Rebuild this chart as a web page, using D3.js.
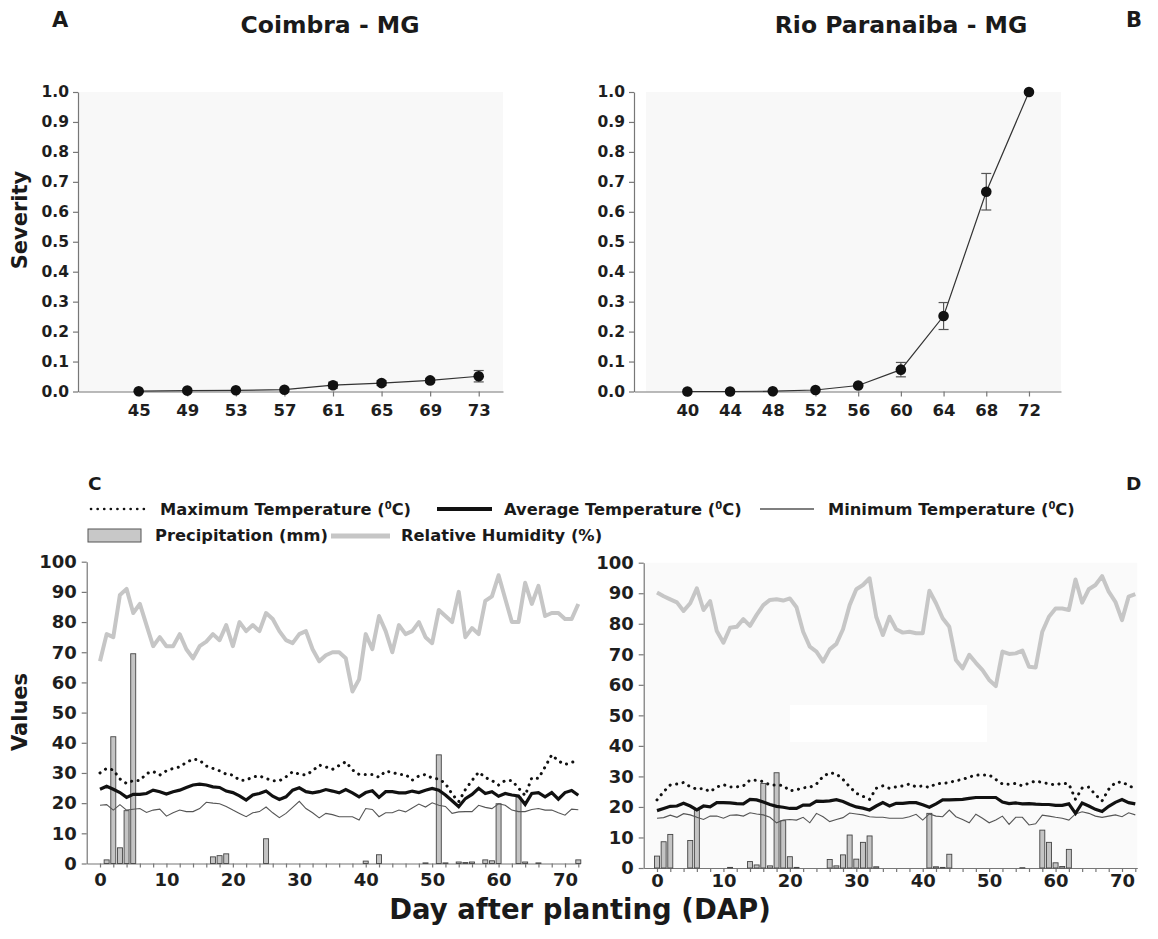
<!DOCTYPE html>
<html>
<head>
<meta charset="utf-8">
<script src="https://cdnjs.cloudflare.com/ajax/libs/d3/7.8.5/d3.min.js"></script>
<style>
  body { margin: 0; background: #fff; }
  svg { display: block; font-family: 'DejaVu Sans', sans-serif; }
  .axis path, .axis line { stroke: #777; stroke-width: 1.2; }
  .axis text { font-family: 'DejaVu Sans', sans-serif; font-weight: bold; fill: #1e1e1e; }
  .lbl { font-family: 'DejaVu Sans', sans-serif; font-weight: bold; fill: #1a1a1a; }
</style>
</head>
<body>
<script>

// ---- severity data (panels A and B)
const sevTicks = [0, 0.1, 0.2, 0.3, 0.4, 0.5, 0.6, 0.7, 0.8, 0.9, 1.0];
const daysA = [45, 49, 53, 57, 61, 65, 69, 73];
const sevA = [0.001, 0.003, 0.004, 0.006, 0.021, 0.028, 0.037, 0.051];
const errA = [0, 0, 0, 0, 0.010, 0.008, 0.007, 0.019];
const daysB = [40, 44, 48, 52, 56, 60, 64, 68, 72];
const sevB = [0, 0, 0.001, 0.005, 0.02, 0.073, 0.252, 0.667, 1.0];
const errB = [0, 0, 0, 0, 0.003, 0.024, 0.045, 0.061, 0];

// ---- weather data (panels C and D), one value per day after planting, day 0..72
const valueTicks = [0, 10, 20, 30, 40, 50, 60, 70, 80, 90, 100];
const dapTicks = [0, 2, 4, 6, 8, 10, 12, 14, 16, 18, 20, 22, 24, 26, 28, 30, 32, 34, 36,
                  38, 40, 42, 44, 46, 48, 50, 52, 54, 56, 58, 60, 62, 64, 66, 68, 70, 72];

const rhC = [67, 76, 75, 89, 91, 83, 86, 79, 72, 75, 72, 72, 76, 71, 68, 72, 73.5, 76, 74, 79,
             72, 80, 77, 79, 77, 83, 81, 77, 74, 73, 76, 77, 71, 67, 69, 70, 70, 68, 57, 61,
             76, 71, 82, 77, 70, 79, 76, 77, 80, 75, 73, 84, 82, 80, 90, 75, 78, 76, 87, 88.5,
             95.5, 87.7, 80, 80, 93, 86, 92, 82, 83, 83, 81, 81, 86];
const tmaxC = [30, 31.5, 31, 28, 26.5, 27.5, 27.5, 29.8, 30.5, 29.3, 30.7, 31.5, 32, 33.5, 34.6, 34.2, 32.3, 31.5, 30.7, 29.6,
               29.3, 27.6, 27.6, 28.7, 29, 28.2, 27.4, 27.4, 28.7, 30.4, 29.6, 29.3, 30.7, 32.6, 32, 31.2, 32.5, 33.7, 31, 29.5,
               29.5, 29.5, 28.6, 30.6, 30.2, 29.5, 29.5, 27.6, 29, 29.5, 28.3, 28, 26.5, 23, 20.5, 24.5, 27.5, 30.3, 28.5, 27.5,
               26, 27.5, 27.5, 25, 22.5, 28.4, 28.2, 32, 36, 34, 32.8, 33.5, 34.2];
const tavgC = [24.6, 25.6, 24.6, 23.5, 21.9, 22.9, 22.9, 23.2, 24.3, 23.8, 23, 23.8, 24.3, 25.2, 26, 26.3, 26, 25.4, 25.2, 24,
               23.5, 22.4, 21, 22.7, 23.2, 24, 22.3, 21.2, 22.1, 24.3, 25.1, 23.8, 23.4, 23.8, 24.5, 24, 23.4, 24.5, 23.4, 22.1,
               23.5, 24.1, 21.9, 23.8, 23.8, 23.4, 23.4, 24, 23.5, 24.3, 24.9, 24.3, 22.7, 20.8, 18.8, 21.5, 22.9, 24.9, 23.2, 23.8,
               22.3, 23.2, 22.7, 22.4, 19.6, 23.2, 23.5, 22.1, 23.5, 21.3, 23.5, 24.2, 22.6];
const tminC = [19.3, 19.5, 17.7, 19.5, 17.7, 18, 18.2, 16.9, 17.7, 18, 15.7, 16.8, 17.7, 17.2, 17.2, 18.2, 20.3, 20, 19.8, 18.9,
               17.7, 16.6, 15.5, 16.8, 17.2, 18.7, 16.8, 15.2, 16.6, 18.6, 20.6, 18.2, 16.8, 15.1, 16.6, 16.2, 15.5, 15.5, 15.5, 14.4,
               18.2, 17.9, 15.5, 16.8, 16.8, 17.7, 17.1, 18.4, 19.7, 18.7, 20.1, 19.3, 18.9, 16.6, 17.1, 17.2, 17.2, 19.3, 18.6, 18.2,
               19.8, 19.3, 17.7, 17.2, 17.2, 17.9, 18.2, 17.7, 17.7, 16.8, 16, 18, 17.8];
const rainDaysC = [1, 2, 3, 4, 5, 17, 18, 19, 25, 40, 42, 49, 51, 52, 54, 55, 56, 58, 59, 60, 63, 64, 66, 72];
const rainC = [1.2, 42, 5.2, 17.5, 69.5, 2.2, 2.6, 3.2, 8.2, 0.8, 2.9, 0.2, 36, 0.2, 0.5, 0.3, 0.5, 1.2, 0.9, 19.8, 22, 0.5, 0.2, 1.2];

const rhD = [90.2, 89, 88, 87, 84.2, 86.7, 91.6, 84.5, 87.4, 77.6, 73.8, 78.7, 79, 81.5, 79.3, 82.9, 86.1, 87.8, 88, 87.6,
             88.3, 85.4, 77.4, 72.5, 70.9, 67.6, 71.6, 73.4, 78.2, 86.1, 91.3, 92.7, 94.9, 82.3, 76.3, 82.3, 78.2, 77.1, 77.4, 76.9,
             76.9, 90.8, 86.7, 81.8, 79, 68.1, 65.4, 69.8, 67.2, 64.8, 61.6, 59.6, 70.9, 70.1, 70.3, 71.2, 65.9, 65.7, 77.4, 82.3,
             85, 85, 84.5, 94.5, 86.9, 91.3, 92.7, 95.6, 90.5, 87.2, 81.2, 88.9, 89.7];
const tmaxD = [22.3, 25, 27.2, 27.5, 28, 26.6, 25.8, 26.1, 25, 26.5, 27.3, 26.5, 26.6, 26.9, 28.8, 28.7, 28.3, 27.2, 27.2, 27,
               25.3, 25.6, 26.3, 26.4, 27.5, 30, 31.2, 30.8, 29, 26.6, 24.5, 23.5, 22.5, 26.1, 26.9, 26.1, 26.6, 26.9, 27.5, 26.6,
               26.9, 26.4, 27.6, 27.7, 28, 28.6, 29, 29.8, 30.4, 30.5, 30.5, 29, 27.5, 27.4, 27.7, 26.9, 27.8, 28.5, 28, 27.6,
               27.2, 27.8, 27.5, 22.5, 26.2, 26.5, 24, 22, 25.8, 28, 28.2, 27, 26];
const tavgD = [18.8, 19.5, 20.2, 20.3, 21.2, 20.3, 19, 20.3, 20, 21.4, 21.4, 21.3, 21.1, 21, 22.5, 22.3, 21.6, 20.8, 20.2, 19.9,
               19.5, 19.5, 20.6, 20.6, 21.9, 21.8, 22, 22.4, 21.8, 20.8, 20, 19.6, 19, 20.3, 21.4, 20.3, 21.2, 21.2, 21.4, 21.4,
               20.7, 19.9, 21, 22.3, 22.3, 22.4, 22.5, 22.8, 23.1, 23.1, 23.1, 23.1, 21.6, 21.1, 21.3, 21, 21.1, 20.9, 20.8, 20.8,
               20.5, 20.5, 21, 17.9, 21.3, 20.3, 19.2, 18.5, 20.2, 21.5, 22.4, 21.4, 21];
const tminD = [16.3, 16.5, 17.3, 16.6, 17.8, 17.4, 16.6, 15.9, 17, 17, 16.3, 17.3, 17.4, 17, 18.1, 17.7, 17.4, 16.6, 14.8, 15.7,
               15.9, 15.7, 16.6, 14.8, 17.9, 16.8, 15.2, 15.9, 16.5, 18, 17.7, 17.4, 16.8, 16.6, 16.6, 16.3, 16.3, 16.3, 16.8, 17.6,
               15.7, 17.7, 17, 16.8, 19, 16.8, 15.9, 14.8, 17.6, 16.3, 14.8, 15.7, 17, 14.3, 16.6, 16.6, 14.1, 14.5, 17.3, 17,
               16.6, 16.3, 15.7, 17.7, 18.4, 17.9, 17, 16.6, 17, 17.4, 16.8, 18.1, 17.4];
const rainDaysD = [0, 1, 2, 5, 6, 11, 14, 15, 16, 17, 18, 19, 20, 21, 26, 27, 28, 29, 30, 31, 32, 33, 41, 42, 43, 44, 55, 58, 59, 60, 61, 62];
const rainD = [3.9, 8.6, 11, 9, 19, 0.2, 2.1, 1, 27.7, 0.7, 31.2, 15.5, 3.7, 0.2, 2.8, 0.7, 4.3, 10.8, 2.9, 8.4, 10.5, 0.4,
               17.9, 0.4, 0.2, 4.5, 0.1, 12.4, 8.4, 1.7, 0.5, 6.1];

// ---- page size
const WIDTH = 1158;
const HEIGHT = 939;

const SVG = d3.select('body')
              .append('svg')
              .attr('width', WIDTH)
              .attr('height', HEIGHT);

// severity panel: line with dots and error bars
function drawSeverity(cfg) {
    const xScale = d3.scaleLinear().domain(cfg.domain).range([cfg.left, cfg.right]);
    const yScale = d3.scaleLinear().domain([0, 1]).range([391.5, 92]);

    // light plot background
    SVG.append('rect')
       .attr('x', cfg.bgLeft)
       .attr('y', yScale(1))
       .attr('width', cfg.right - cfg.bgLeft)
       .attr('height', yScale(0) - yScale(1))
       .attr('fill', '#f8f8f8');

    const xAxis = SVG.append('g')
       .attr('class', 'axis')
       .attr('transform', 'translate(0,' + yScale(0) + ')')
       .call(d3.axisBottom(xScale).tickValues(cfg.days).tickSize(5).tickSizeOuter(0).tickPadding(8));
    xAxis.selectAll('text').style('font-size', '16.5px');

    const yAxis = SVG.append('g')
       .attr('class', 'axis')
       .attr('transform', 'translate(' + cfg.left + ',0)')
       .call(d3.axisLeft(yScale).tickValues(sevTicks).tickFormat(d3.format('.1f'))
               .tickSize(5).tickSizeOuter(0).tickPadding(4));
    yAxis.selectAll('text').style('font-size', '15.5px');

    const pts = cfg.days.map((d, i) => ({day: d, v: cfg.sev[i], e: cfg.err[i]}));

    SVG.append('path')
       .datum(pts)
       .attr('d', d3.line().x(d => xScale(d.day)).y(d => yScale(d.v)))
       .attr('fill', 'none')
       .attr('stroke', '#333')
       .attr('stroke-width', 1.2);

    // error bars
    const bars = SVG.append('g')
       .attr('stroke', '#555')
       .attr('stroke-width', 1.2)
       .selectAll('g')
       .data(pts.filter(d => d.e > 0))
       .join('g');
    bars.append('line')
        .attr('x1', d => xScale(d.day)).attr('x2', d => xScale(d.day))
        .attr('y1', d => yScale(d.v - d.e)).attr('y2', d => yScale(d.v + d.e));
    [-1, 1].forEach(s => {
        bars.append('line')
            .attr('x1', d => xScale(d.day) - 5).attr('x2', d => xScale(d.day) + 5)
            .attr('y1', d => yScale(d.v + s * d.e)).attr('y2', d => yScale(d.v + s * d.e));
    });

    SVG.append('g')
       .selectAll('circle')
       .data(pts)
       .join('circle')
       .attr('cx', d => xScale(d.day))
       .attr('cy', d => yScale(d.v))
       .attr('r', 5.3)
       .attr('fill', '#111');
}

drawSeverity({days: daysA, sev: sevA, err: errA, domain: [40, 75], left: 78, right: 503, bgLeft: 78});
drawSeverity({days: daysB, sev: sevB, err: errB, domain: [35, 75], left: 634, right: 1061, bgLeft: 646});

// weather panel: precipitation bars, humidity and temperature lines
function drawWeather(cfg) {
    const dayStep = 6.643;
    const xScale = d3.scaleLinear()
                     .domain([-2, 72.3])
                     .range([cfg.day0 - 2 * dayStep, cfg.day0 + 72.3 * dayStep]);
    const yScale = d3.scaleLinear().domain([0, 100]).range([cfg.zero, cfg.top]);

    if (cfg.bg) {
        SVG.append('rect')
           .attr('x', xScale(-2)).attr('y', yScale(100))
           .attr('width', xScale(72.3) - xScale(-2))
           .attr('height', yScale(0) - yScale(100))
           .attr('fill', cfg.bg);
        // blank patch in the scanned original
        SVG.append('rect')
           .attr('x', 790).attr('y', 705).attr('width', 197).attr('height', 37)
           .attr('fill', '#ffffff');
    }

    const xAxis = SVG.append('g')
       .attr('class', 'axis')
       .attr('transform', 'translate(0,' + yScale(0) + ')')
       .call(d3.axisBottom(xScale).tickValues(dapTicks)
               .tickFormat(d => d % 10 === 0 ? d : '')
               .tickSize(4).tickSizeOuter(0).tickPadding(cfg.xPad));
    xAxis.selectAll('text').style('font-size', '18px');

    const yAxis = SVG.append('g')
       .attr('class', 'axis')
       .attr('transform', 'translate(' + xScale(-2) + ',0)')
       .call(d3.axisLeft(yScale).tickValues(valueTicks).tickSize(5).tickSizeOuter(0).tickPadding(5));
    yAxis.selectAll('text').style('font-size', '18px');

    // precipitation
    SVG.append('g')
       .selectAll('rect')
       .data(cfg.rainDays.map((d, i) => ({day: d, v: cfg.rain[i]})))
       .join('rect')
       .attr('x', d => xScale(d.day) - 2.5)
       .attr('y', d => yScale(d.v))
       .attr('width', 5)
       .attr('height', d => yScale(0) - yScale(d.v))
       .attr('fill', '#c4c4c4')
       .attr('stroke', '#444')
       .attr('stroke-width', 0.9);

    const line = d3.line().x((d, i) => xScale(i)).y(d => yScale(d));

    SVG.append('path').datum(cfg.rh).attr('d', line)
       .attr('fill', 'none').attr('stroke', '#c6c6c6').attr('stroke-width', 4)
       .attr('stroke-linejoin', 'round');

    SVG.append('path').datum(cfg.tmin).attr('d', line)
       .attr('fill', 'none').attr('stroke', '#555').attr('stroke-width', 1.1);

    SVG.append('path').datum(cfg.tavg).attr('d', line)
       .attr('fill', 'none').attr('stroke', '#111').attr('stroke-width', 3.2);

    SVG.append('path').datum(cfg.tmax).attr('d', line)
       .attr('fill', 'none').attr('stroke', '#111').attr('stroke-width', 3)
       .attr('stroke-linecap', 'round').attr('stroke-dasharray', '0.1 6.5');
}

drawWeather({day0: 100, zero: 863.5, top: 561.7, xPad: 6, bg: null,
             rh: rhC, tmax: tmaxC, tavg: tavgC, tmin: tminC, rainDays: rainDaysC, rain: rainC});
drawWeather({day0: 657, zero: 868, top: 562.7, xPad: 2, bg: '#fafafa',
             rh: rhD, tmax: tmaxD, tavg: tavgD, tmin: tminD, rainDays: rainDaysD, rain: rainD});

// titles and panel letters
const titles = [
    {text: 'Coimbra - MG', x: 330, y: 33, size: 23.5, anchor: 'middle'},
    {text: 'Rio Paranaiba - MG', x: 901, y: 33, size: 23.5, anchor: 'middle'},
    {text: 'A', x: 52, y: 27, size: 21, anchor: 'start'},
    {text: 'B', x: 1126, y: 27, size: 21, anchor: 'start'},
    {text: 'C', x: 88, y: 490, size: 18.5, anchor: 'start'},
    {text: 'D', x: 1126, y: 490, size: 18.5, anchor: 'start'},
    {text: 'Day after planting (DAP)', x: 580, y: 919, size: 27.5, anchor: 'middle'}
];
SVG.append('g')
   .selectAll('text')
   .data(titles)
   .join('text')
   .attr('class', 'lbl')
   .attr('x', d => d.x)
   .attr('y', d => d.y)
   .attr('text-anchor', d => d.anchor)
   .style('font-size', d => d.size + 'px')
   .text(d => d.text);

// rotated axis titles
[{text: 'Severity', y: 220}, {text: 'Values', y: 712}].forEach(t => {
    SVG.append('text')
       .attr('class', 'lbl')
       .attr('transform', 'translate(27,' + t.y + ') rotate(-90)')
       .attr('text-anchor', 'middle')
       .style('font-size', '21px')
       .text(t.text);
});

// legend
const legend = SVG.append('g').attr('class', 'legend');

legend.append('line').attr('x1', 91).attr('x2', 147).attr('y1', 509).attr('y2', 509)
      .attr('stroke', '#111').attr('stroke-width', 2.6)
      .attr('stroke-linecap', 'round').attr('stroke-dasharray', '0.1 6.5');
legend.append('line').attr('x1', 437).attr('x2', 492).attr('y1', 509).attr('y2', 509)
      .attr('stroke', '#111').attr('stroke-width', 4);
legend.append('line').attr('x1', 760).attr('x2', 814).attr('y1', 509).attr('y2', 509)
      .attr('stroke', '#555').attr('stroke-width', 1.3);
legend.append('rect').attr('x', 88).attr('y', 529).attr('width', 53).attr('height', 13)
      .attr('fill', '#c8c8c8').attr('stroke', '#555').attr('stroke-width', 1);
legend.append('line').attr('x1', 331).attr('x2', 390).attr('y1', 536).attr('y2', 536)
      .attr('stroke', '#c6c6c6').attr('stroke-width', 5);

const tempLabels = [
    {name: 'Maximum Temperature', x: 160},
    {name: 'Average Temperature', x: 504},
    {name: 'Minimum Temperature', x: 828}
];
tempLabels.forEach(l => {
    const t = legend.append('text').attr('class', 'lbl')
                    .attr('x', l.x).attr('y', 515).style('font-size', '16.3px');
    t.append('tspan').text(l.name + ' (');
    t.append('tspan').attr('dy', -6).style('font-size', '10px').text('0');
    t.append('tspan').attr('dy', 6).text('C)');
});

[{name: 'Precipitation (mm)', x: 155}, {name: 'Relative Humidity (%)', x: 401}].forEach(l => {
    legend.append('text').attr('class', 'lbl')
          .attr('x', l.x).attr('y', 541).style('font-size', '16.3px')
          .text(l.name);
});

</script>
</body>
</html>
